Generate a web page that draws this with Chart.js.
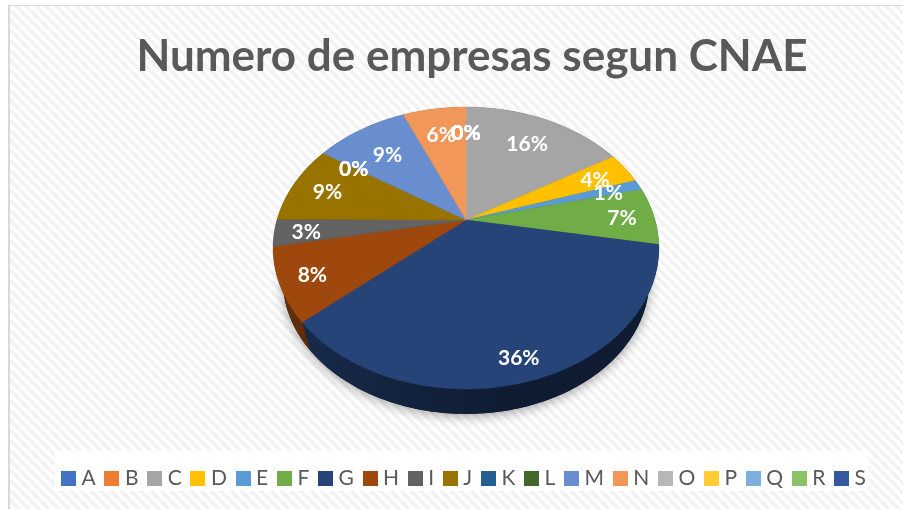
<!DOCTYPE html>
<html>
<head>
<meta charset="utf-8">
<title>Numero de empresas segun CNAE</title>
<script src="https://cdn.jsdelivr.net/npm/chart.js@4"></script>
<style>
  html, body { margin: 0; padding: 0; background: #fff; }
  #wrap { width: 903px; height: 509px; }
</style>
</head>
<body>
<div id="wrap"><canvas id="myChart" width="903" height="509"></canvas></div>
<script>
const titulo = 'Numero de empresas segun CNAE';
const categorias = ['A','B','C','D','E','F','G','H','I','J','K','L','M','N','O','P','Q','R','S'];
const valores = [0, 0, 16.4, 3.6, 1.2, 6.6, 35.8, 8.4, 3.1, 9.1, 0, 0, 9.4, 6.4, 0, 0, 0, 0, 0];
const colores = ['#4472c4','#ed7d31','#a5a5a5','#ffc000','#5b9bd5','#70ad47','#264478','#9e480e','#636363','#997300',
    '#255e91','#43682b','#698ed0','#f1975a','#b7b7b7','#ffcd33','#7cafdd','#8cc168','#335aa1'];
// how far out each percent label sits inside its slice (0 centre, 1 edge)
const radioEtiquetas = [.756,.756,.74,.80,.817,.83,.872,.838,.836,.80,.769,.769,.718,.754,.756,.756,.756,.756,.756];

// tilted disc: apex of the pie and perspective of the top face
const cx = 466, apexY = 220, R = 189, b = 135.4, k = -0.1986;
const medioY = 248, grosor = 0.95, bajoY = 280;

function proyecta(u, v) {
    const w = 1 + k * v;
    return { x: cx + R * u / w, y: apexY + b * v / w };
}
function abajo(p) {
    return { x: cx + grosor * (p.x - cx), y: bajoY + grosor * (p.y - medioY) };
}
function puntosArco(a0, a1) {
    const pts = [];
    const n = Math.max(2, Math.ceil((a1 - a0) / 0.02));
    for (let i = 0; i <= n; i++) {
        const a = a0 + (a1 - a0) * i / n;
        pts.push(proyecta(Math.cos(a), Math.sin(a)));
    }
    return pts;
}
function traza(ctx, pts) {
    ctx.beginPath();
    pts.forEach((p, i) => i ? ctx.lineTo(p.x, p.y) : ctx.moveTo(p.x, p.y));
    ctx.closePath();
}
function oscurece(hex, f) {
    const n = parseInt(hex.slice(1), 16);
    return `rgb(${(n >> 16) * f | 0},${((n >> 8) & 255) * f | 0},${(n & 255) * f | 0})`;
}

function rayas(ctx) {
    const t = document.createElement('canvas');
    t.width = t.height = 10;
    const c = t.getContext('2d');
    c.fillStyle = '#ffffff';
    c.fillRect(0, 0, 10, 10);
    c.strokeStyle = '#f2f2f2';
    c.lineWidth = 3.5;
    [-10, 0, 10].forEach(d => {
        c.beginPath();
        c.moveTo(d, 0);
        c.lineTo(d + 10, 10);
        c.stroke();
    });
    return ctx.createPattern(t, 'repeat');
}

const fondo = {
    id: 'fondo',
    afterLayout(chart) {
        // title sits a little right of the legend
        chart.titleBlock.left += 6;
        chart.titleBlock.right += 6;
    },
    beforeDraw(chart) {
        const ctx = chart.ctx;
        ctx.save();
        ctx.fillStyle = '#fff';
        ctx.fillRect(0, 0, chart.width, chart.height);
        ctx.fillStyle = rayas(ctx);
        ctx.fillRect(9, 6, chart.width - 9, chart.height - 6);
        ctx.fillStyle = '#d9d9d9';
        ctx.fillRect(8, 5, chart.width - 8, 1);
        ctx.fillRect(8, 5, 2, chart.height - 5);
        ctx.fillStyle = '#ffffff';
        ctx.fillRect(55, 451, 813, 40);
        ctx.restore();
    }
};

const pastel = {
    id: 'pastel',
    beforeDatasetDraw(chart, args) {
        const ctx = chart.ctx;
        const arcos = args.meta.data;
        ctx.save();

        // soft shadow under the disc
        ctx.save();
        ctx.shadowColor = 'rgba(0,0,0,0.38)';
        ctx.shadowBlur = 12;
        ctx.shadowOffsetY = 2;
        ctx.fillStyle = '#0f1d3a';
        traza(ctx, puntosArco(0, Math.PI * 2).map(abajo));
        ctx.fill();
        ctx.restore();

        // side wall
        arcos.forEach((arco, i) => {
            if (arco.endAngle - arco.startAngle <= 0) return;
            const sup = puntosArco(arco.startAngle, arco.endAngle);
            const inf = sup.map(abajo).reverse();
            const g = ctx.createLinearGradient(303, 0, 520, 0);
            g.addColorStop(0, oscurece(colores[i], 0.62));
            g.addColorStop(1, oscurece(colores[i], 0.4));
            ctx.fillStyle = g;
            traza(ctx, sup.concat(inf));
            ctx.fill();
        });

        // top face
        arcos.forEach((arco, i) => {
            if (arco.endAngle - arco.startAngle <= 0) return;
            const pts = puntosArco(arco.startAngle, arco.endAngle);
            pts.push(proyecta(0, 0));
            ctx.fillStyle = colores[i];
            ctx.strokeStyle = colores[i];
            ctx.lineWidth = 0.5;
            traza(ctx, pts);
            ctx.fill();
            ctx.stroke();
        });

        // percent labels
        const total = valores.reduce((s, v) => s + v, 0);
        ctx.font = '700 21px Lato';
        ctx.fillStyle = '#ffffff';
        ctx.textAlign = 'center';
        ctx.textBaseline = 'middle';
        arcos.forEach((arco, i) => {
            const a = (arco.startAngle + arco.endAngle) / 2;
            const r = radioEtiquetas[i];
            const p = proyecta(r * Math.cos(a), r * Math.sin(a));
            ctx.fillText(Math.round(valores[i] / total * 100) + '%', p.x, p.y + 2);
        });
        ctx.restore();
        return false;
    }
};

const cuadro = color => {
    const c = document.createElement('canvas');
    c.width = c.height = 15;
    const x = c.getContext('2d');
    x.fillStyle = color;
    x.fillRect(0, 0, 15, 15);
    return c;
};

new Chart(document.getElementById('myChart'), {
    type: 'pie',
    data: {
        labels: categorias,
        datasets: [{ data: valores, backgroundColor: colores, borderWidth: 0 }]
    },
    plugins: [fondo, pastel],
    options: {
        responsive: false,
        animation: false,
        layout: { padding: { left: 29, bottom: 10, top: 30 } },
        plugins: {
            tooltip: { enabled: false },
            title: {
                display: true,
                text: titulo,
                color: '#595959',
                font: { family: 'Lato', size: 44, weight: '700' },
                padding: { top: 0, bottom: 10 }
            },
            legend: {
                position: 'bottom',
                labels: {
                    color: '#595959',
                    font: { family: 'Lato', size: 21 },
                    usePointStyle: true,
                    pointStyleWidth: 5,
                    padding: 13.7,
                    generateLabels(chart) {
                        return Chart.overrides.doughnut.plugins.legend.labels.generateLabels(chart)
                            .map((it, i) => ({ ...it, pointStyle: cuadro(colores[i]), hidden: false }));
                    }
                }
            }
        }
    }
});
</script>
</body>
</html>
